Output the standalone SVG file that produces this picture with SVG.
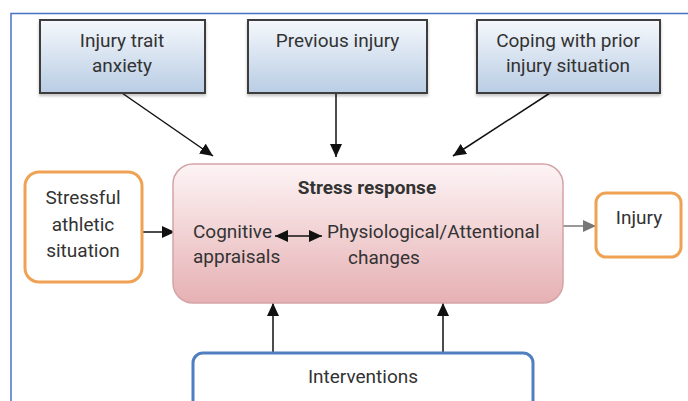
<svg xmlns="http://www.w3.org/2000/svg" width="688" height="401" viewBox="0 0 688 401">
<style>
text{font-family:Roboto,"Liberation Sans",sans-serif;font-size:19px;fill:#333;text-anchor:middle}
.b{font-weight:bold}
.top{fill:url(#gBlue);stroke:#3c3c3c;stroke-width:2;filter:url(#sh)}
.orange{fill:#fff;stroke:#f0a254;stroke-width:3}
.conn{stroke:#111;stroke-width:1.5;fill:none}
</style>
<defs>
<linearGradient id="gBlue" x1="0" y1="0" x2="0" y2="1">
<stop offset="0" stop-color="#f5f8fc"/>
<stop offset="1" stop-color="#b9cde4"/>
</linearGradient>
<linearGradient id="gPink" x1="0" y1="0" x2="0" y2="1">
<stop offset="0" stop-color="#fdf4f5"/>
<stop offset="1" stop-color="#e6b0b3"/>
</linearGradient>
<filter id="sh" x="-10%" y="-10%" width="120%" height="130%">
<feDropShadow dx="0" dy="2" stdDeviation="1.5" flood-color="#000" flood-opacity="0.25"/>
</filter>
<marker id="ah" markerUnits="userSpaceOnUse" markerWidth="14" markerHeight="12" refX="13" refY="6" orient="auto-start-reverse">
<path d="M0,0 L13,6 L0,12 Z" fill="#111"/>
</marker>
<marker id="ahg" markerUnits="userSpaceOnUse" markerWidth="14" markerHeight="12" refX="13" refY="6" orient="auto">
<path d="M0,0 L13,6 L0,12 Z" fill="#777"/>
</marker>
</defs>
<rect width="688" height="401" fill="#fff"/>
<path d="M11,401 V13.5 H688" fill="none" stroke="#4a72c4" stroke-width="1.5"/>

<g id="connectors">
<line class="conn" x1="122" y1="93" x2="213" y2="156" marker-end="url(#ah)"/>
<line class="conn" x1="336" y1="93" x2="336" y2="157" marker-end="url(#ah)"/>
<line class="conn" x1="550" y1="93" x2="453" y2="156" marker-end="url(#ah)"/>
<line class="conn" x1="142" y1="232" x2="175" y2="232" marker-end="url(#ah)"/>
<line x1="563" y1="226" x2="596" y2="226" stroke="#777" stroke-width="1.5" marker-end="url(#ahg)"/>
<line class="conn" x1="273" y1="353" x2="273" y2="303" marker-end="url(#ah)"/>
<line class="conn" x1="443" y1="353" x2="443" y2="303" marker-end="url(#ah)"/>
</g>

<g id="injury-trait-anxiety">
<rect class="top" x="40" y="20" width="165" height="73"/>
<text x="122" y="47">Injury trait</text>
<text x="122" y="72">anxiety</text>
</g>
<g id="previous-injury">
<rect class="top" x="248" y="20" width="179" height="73"/>
<text x="337.5" y="47">Previous injury</text>
</g>
<g id="coping">
<rect class="top" x="477" y="20" width="183" height="73"/>
<text x="568" y="47">Coping with prior</text>
<text x="568" y="72">injury situation</text>
</g>

<g id="stressful-situation">
<rect class="orange" x="25" y="172" width="117" height="110" rx="14"/>
<text x="83" y="204">Stressful</text>
<text x="83" y="231">athletic</text>
<text x="83" y="257">situation</text>
</g>

<g id="stress-response">
<rect x="173" y="164" width="390" height="139" rx="20" fill="url(#gPink)" stroke="#d4a4a6" stroke-width="1.5"/>
<text class="b" x="367" y="194">Stress response</text>
<text x="193" y="238" style="text-anchor:start">Cognitive</text>
<text x="193" y="263" style="text-anchor:start">appraisals</text>
<text x="327" y="238" style="text-anchor:start">Physiological/Attentional</text>
<text x="384" y="264">changes</text>
<line class="conn" x1="275" y1="236" x2="322" y2="236" marker-start="url(#ah)" marker-end="url(#ah)"/>
</g>

<g id="injury">
<rect class="orange" x="596" y="193" width="85" height="64" rx="10"/>
<text x="639" y="224">Injury</text>
</g>

<g id="interventions">
<rect x="193" y="353" width="340" height="70" rx="10" fill="#fff" stroke="#4f7fc0" stroke-width="3"/>
<text x="363" y="383">Interventions</text>
</g>
</svg>
